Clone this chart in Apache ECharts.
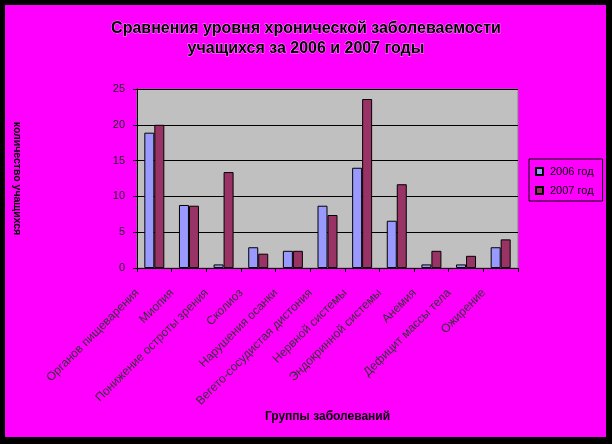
<!DOCTYPE html>
<html>
<head>
<meta charset="utf-8">
<script src="https://cdn.jsdelivr.net/npm/echarts@6/dist/echarts.min.js"></script>
<style>
  html, body { margin: 0; padding: 0; background: #000; }
  #chart { width: 612px; height: 444px; }
</style>
</head>
<body>
<div id="chart"></div>
<script>
// Disease groups and prevalence per school year
const categories = [
  'Органов пищеварения',
  'Миопия',
  'Понижение остроты зрения',
  'Сколиоз',
  'Нарушения осанки',
  'Вегето-сосудистая дистония',
  'Нервной системы',
  'Эндокринной системы',
  'Анемия',
  'Дефицит массы тела',
  'Ожирение'
];
const values2006 = [18.9, 8.8, 0.5, 2.9, 2.4, 8.7, 14.0, 6.6, 0.5, 0.5, 2.9];
const values2007 = [20.0, 8.7, 13.4, 2.0, 2.4, 7.4, 23.6, 11.7, 2.4, 1.7, 4.0];
const seriesNames = ['2006 год', '2007 год'];
const yTicks = [0, 5, 10, 15, 20, 25];

const chart = echarts.init(document.getElementById('chart'), null, { renderer: 'canvas' });

const textFont = 'Liberation Sans, Arial, sans-serif';

chart.setOption({
  backgroundColor: '#000000',
  animation: false,
  graphic: [
    {
      type: 'rect',
      shape: { x: 5, y: 5, width: 601, height: 432 },
      style: { fill: '#FF00FF' },
      z: -10
    }
  ],
  title: {
    text: 'Сравнения уровня хронической заболеваемости\nучащихся за 2006 и 2007 годы',
    left: 'center',
    top: 14,
    textStyle: {
      fontFamily: textFont,
      fontSize: 16,
      fontWeight: 'bold',
      color: '#000',
      lineHeight: 20,
      textBorderColor: 'rgba(255,255,255,0.55)',
      textBorderWidth: 1
    }
  },
  legend: {
    orient: 'vertical',
    left: 529,
    top: 159,
    padding: [7, 9, 5, 6],
    itemGap: 8,
    itemWidth: 7,
    itemHeight: 7,
    icon: 'rect',
    borderColor: '#000',
    borderWidth: 1,
    data: seriesNames,
    textStyle: {
      fontFamily: textFont,
      fontSize: 11,
      color: '#000',
      padding: [0, 0, 0, 2]
    }
  },
  grid: {
    left: 137,
    right: 94,
    top: 89,
    bottom: 176,
    show: true,
    backgroundColor: '#C0C0C0',
    borderColor: '#808080',
    borderWidth: 1
  },
  xAxis: {
    type: 'category',
    data: categories,
    name: 'Группы заболеваний',
    nameLocation: 'middle',
    nameGap: 143,
    nameTextStyle: {
      fontFamily: textFont,
      fontSize: 12,
      fontWeight: 'bold',
      color: '#000'
    },
    axisLine: { show: true, lineStyle: { color: '#000', width: 1 } },
    axisTick: { show: true, alignWithLabel: false, length: 4, lineStyle: { color: '#000' } },
    axisLabel: {
      interval: 0,
      rotate: 45,
      margin: 6,
      padding: [0, 24, 0, 0],
      fontFamily: textFont,
      fontSize: 12,
      color: '#333'
    },
    splitLine: { show: false }
  },
  yAxis: {
    type: 'value',
    min: yTicks[0],
    max: yTicks[yTicks.length - 1],
    interval: yTicks[1] - yTicks[0],
    name: 'количество учащихся',
    nameLocation: 'middle',
    nameRotate: -90,
    nameGap: 115,
    nameTextStyle: {
      fontFamily: textFont,
      fontSize: 10.5,
      fontWeight: 'bold',
      color: '#000'
    },
    axisLine: { show: true, lineStyle: { color: '#000', width: 1 } },
    axisTick: { show: true, length: 4, lineStyle: { color: '#000' } },
    axisLabel: {
      margin: 12,
      fontFamily: textFont,
      fontSize: 11,
      color: '#222'
    },
    splitLine: {
      show: true,
      lineStyle: { color: '#000', width: 1 }
    }
  },
  series: [
    {
      name: seriesNames[0],
      type: 'bar',
      data: values2006,
      barWidth: 10,
      barGap: '0%',
      itemStyle: { color: '#9999FF', borderColor: '#000', borderWidth: 1 }
    },
    {
      name: seriesNames[1],
      type: 'bar',
      data: values2007,
      barWidth: 10,
      barGap: '0%',
      itemStyle: { color: '#993366', borderColor: '#000', borderWidth: 1 }
    }
  ]
});
</script>
</body>
</html>
